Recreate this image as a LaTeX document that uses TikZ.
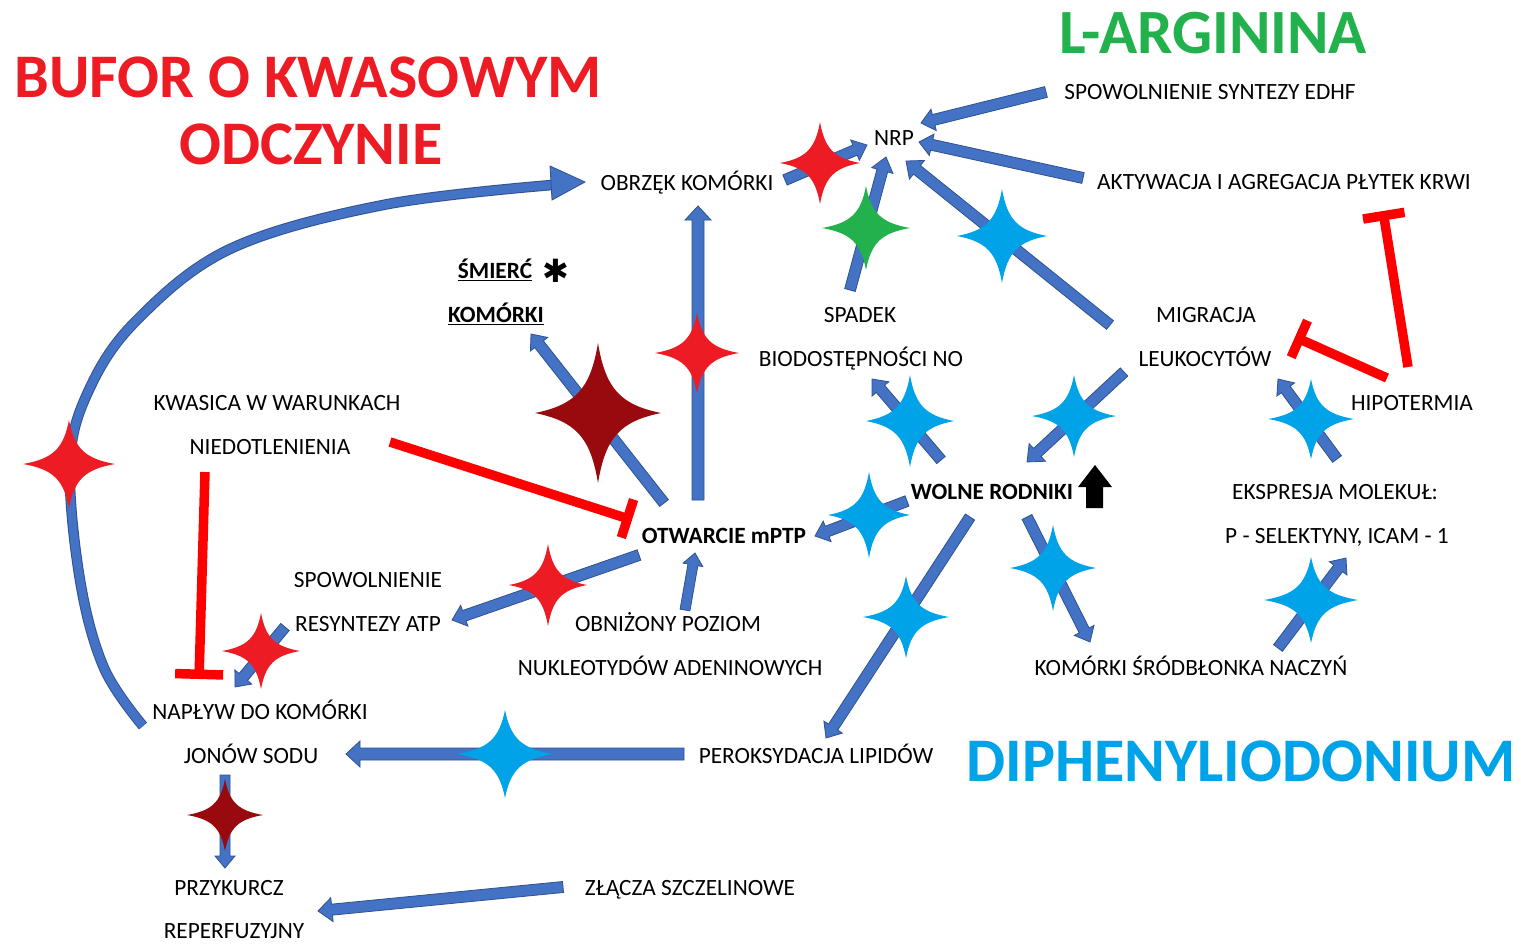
\documentclass[tikz,border=0pt]{standalone}
\usepackage{fontspec}
\setmainfont{Carlito}
\newfontfamily\symfnt{DejaVu Sans}
\usetikzlibrary{arrows.meta,calc}
\definecolor{abl}{HTML}{4472C4}
\definecolor{abd}{HTML}{2F528F}
\definecolor{sred}{HTML}{ED1C24}
\definecolor{dred}{HTML}{990A0E}
\definecolor{sgreen}{HTML}{22B14C}
\definecolor{sblue}{HTML}{00A2E8}
\definecolor{ired}{HTML}{FF0000}
\newcommand\blockarr[5]{%
  \path (#1); \pgfgetlastxy{\baX}{\baY}%
  \path (#2); \pgfgetlastxy{\bbX}{\bbY}%
  \pgfmathsetmacro\baAng{atan2(\bbY-\baY,\bbX-\baX)}%
  \pgfmathsetmacro\baLen{veclen(\bbX-\baX,\bbY-\baY)}%
  \begin{scope}[shift={(\baX,\baY)},rotate=\baAng]
    \filldraw[blockstyle] (0pt,#3pt) -- ({\baLen pt-#5pt},#3pt) -- ({\baLen pt-#5pt},#4pt) -- (\baLen pt,0pt) -- ({\baLen pt-#5pt},-#4pt) -- ({\baLen pt-#5pt},-#3pt) -- (0pt,-#3pt) -- cycle;
  \end{scope}}
\newcommand\qstar[4]{%
  \begin{scope}[shift={(#1)},xscale=#2,yscale=#3]
    \fill[#4] (1,0) .. controls (0.35,0.12) and (0.12,0.35) .. (0,1)
      .. controls (-0.12,0.35) and (-0.35,0.12) .. (-1,0)
      .. controls (-0.35,-0.12) and (-0.12,-0.35) .. (0,-1)
      .. controls (0.12,-0.35) and (0.35,-0.12) .. (1,0) -- cycle;
  \end{scope}}
\begin{document}
\begin{tikzpicture}[x=1pt,y=-1pt,
  blockstyle/.style={fill=abl,draw=abd,line width=0.8pt,line join=miter},
  lbl/.style={font=\fontsize{23.3}{25}\selectfont,text height=19.6pt,text depth=4.6pt,inner sep=0pt},
  blbl/.style={lbl,font=\fontsize{23.3}{25}\selectfont\bfseries},
  title/.style={font=\fontsize{62}{64}\selectfont\bfseries,anchor=base,inner sep=0pt},
  inhib/.style={draw=ired,line width=9.5pt,-{Bar[width=40pt]}}]
\useasboundingbox (0,0) rectangle (1521,943);
\fill[white] (0,0) rectangle (1521,943);

% ---------- titles ----------
\node[title,text=sred] (t1) at (308,97) {BUFOR O KWASOWYM};
\node[title,text=sred] (t2) at (311,164) {ODCZYNIE};
\node[title,text=sgreen,font=\fontsize{63}{65}\selectfont\bfseries] (t3) at (1213,53) {L-ARGININA};
\node[title,text=sblue] (t4) at (1241,781) {DIPHENYLIODONIUM};

% ---------- labels ----------
\node[lbl] (edhf) at (1210,92) {SPOWOLNIENIE SYNTEZY EDHF};
\node[lbl] (nrp) at (894,138) {NRP};
\node[lbl] (aktyw) at (1284,182) {AKTYWACJA I AGREGACJA PŁYTEK KRWI};
\node[lbl] (obrzek) at (687,183) {OBRZĘK KOMÓRKI};
\node[blbl] (smierc) at (495,271) {\underline{ŚMIERĆ}};
\node[inner sep=0pt,font=\symfnt\fontsize{32}{32}\selectfont] (ast) at (556,271) {✱};
\node[blbl] (smierc2) at (496,315) {\underline{KOMÓRKI}};
\node[lbl] (spadek) at (860,315) {SPADEK};
\node[lbl] (biodost) at (861,359) {BIODOSTĘPNOŚCI NO};
\node[lbl] (migr) at (1206,315) {MIGRACJA};
\node[lbl] (leuko) at (1205,359) {LEUKOCYTÓW};
\node[lbl] (hipo) at (1412,403) {HIPOTERMIA};
\node[lbl] (kwas) at (277,403) {KWASICA W WARUNKACH};
\node[lbl] (niedot) at (270,447) {NIEDOTLENIENIA};
\node[blbl] (wolne) at (992,492) {WOLNE RODNIKI};
\node[lbl] (ekspr) at (1335,492) {EKSPRESJA MOLEKUŁ:};
\node[lbl] (selekt) at (1337,536) {P - SELEKTYNY, ICAM - 1};
\node[blbl] (otw) at (724,536) {OTWARCIE mPTP};
\node[lbl] (spow) at (368,580) {SPOWOLNIENIE};
\node[lbl] (resynt) at (368,624) {RESYNTEZY ATP};
\node[lbl] (obniz) at (668,624) {OBNIŻONY POZIOM};
\node[lbl] (nukleo) at (670,668) {NUKLEOTYDÓW ADENINOWYCH};
\node[lbl] (srodbl) at (1191,668) {KOMÓRKI ŚRÓDBŁONKA NACZYŃ};
\node[lbl] (naplyw) at (260,712) {NAPŁYW DO KOMÓRKI};
\node[lbl] (jonow) at (251,756) {JONÓW SODU};
\node[lbl] (perok) at (816,756) {PEROKSYDACJA LIPIDÓW};
\node[lbl] (przyk) at (229,888) {PRZYKURCZ};
\node[lbl] (reperf) at (234,931) {REPERFUZYJNY};
\node[lbl] (zlacza) at (690,888) {ZŁĄCZA SZCZELINOWE};

% ---------- arrow end points ----------
\coordinate (a1s) at (785,180);  \coordinate (a1t) at (867,145);
\coordinate (a2s) at (850,290);  \coordinate (a2t) at (886,157);
\coordinate (a3s) at (1110,325); \coordinate (a3t) at (906,161);
\coordinate (a4s) at (1046,92);  \coordinate (a4t) at (921,123);
\coordinate (a5s) at (1083,178); \coordinate (a5t) at (919,142);
\coordinate (a6s) at (698,500);  \coordinate (a6t) at (698,206);
\coordinate (a7s) at (664,503);  \coordinate (a7t) at (531,334);
\coordinate (a8s) at (941,460);  \coordinate (a8t) at (872,379);
\coordinate (a9s) at (1124,372); \coordinate (a9t) at (1027,462);
\coordinate (a10s) at (907,501); \coordinate (a10t) at (815,536);
\coordinate (a11s) at (970,517); \coordinate (a11t) at (826,738);
\coordinate (a12s) at (1027,517); \coordinate (a12t) at (1090,642);
\coordinate (a13s) at (1337,459); \coordinate (a13t) at (1278,379);
\coordinate (a14s) at (1278,648); \coordinate (a14t) at (1346,558);
\coordinate (a15s) at (639,555); \coordinate (a15t) at (452,620);
\coordinate (a16s) at (685,610); \coordinate (a16t) at (695,553);
\coordinate (a17s) at (285,627); \coordinate (a17t) at (235,687);
\coordinate (a18s) at (684,754); \coordinate (a18t) at (346,754);
\coordinate (a19s) at (225,775); \coordinate (a19t) at (225,868);
\coordinate (a20s) at (563,887); \coordinate (a20t) at (318,911);

% ---------- block arrows ----------
\blockarr{a1s}{a1t}{5.5}{11}{13}
\blockarr{a2s}{a2t}{5.5}{11}{14}
\blockarr{a3s}{a3t}{5.5}{12}{14}
\blockarr{a4s}{a4t}{5.5}{11}{13}
\blockarr{a5s}{a5t}{5.5}{11}{13}
\blockarr{a6s}{a6t}{6}{13}{14}
\blockarr{a7s}{a7t}{5.5}{11}{13}
\blockarr{a8s}{a8t}{5.5}{11}{13}
\blockarr{a9s}{a9t}{5.5}{12}{14}
\blockarr{a10s}{a10t}{5.5}{11}{13}
\blockarr{a11s}{a11t}{5.5}{11}{13}
\blockarr{a12s}{a12t}{5.5}{11}{13}
\blockarr{a13s}{a13t}{5.5}{11}{13}
\blockarr{a14s}{a14t}{5.5}{11}{13}
\blockarr{a15s}{a15t}{5.5}{11}{13}
\blockarr{a16s}{a16t}{5}{10}{12}
\blockarr{a17s}{a17t}{5.5}{11}{13}
\blockarr{a18s}{a18t}{6}{13}{14}
\blockarr{a19s}{a19t}{5}{10}{12}
\blockarr{a20s}{a20t}{5.5}{12}{14}

% ---------- big curved arrow ----------
\coordinate (cs) at (143,726);
\coordinate (ct) at (585,182);
\draw[abd,line width=10.5pt] plot[smooth,tension=0.6] coordinates {(cs) (104,668) (80,580) (70,464) (88,392) (135,322) (230,249) (383,205) (552,185)};
\draw[abl,line width=8.5pt] plot[smooth,tension=0.6] coordinates {(cs) (104,668) (80,580) (70,464) (88,392) (135,322) (230,249) (383,205) (552,185)};
\filldraw[blockstyle] (550,166) -- (ct) -- (552,200) -- cycle;

% ---------- inhibitors ----------
\coordinate (i1s) at (390,442); \coordinate (i1t) at (632,520);
\coordinate (i2s) at (205,472); \coordinate (i2t) at (199,679);
\coordinate (i3s) at (1387,378); \coordinate (i3t) at (1295,337);
\coordinate (i4s) at (1408,367); \coordinate (i4t) at (1383,211);
\draw[inhib] (i1s) -- (i1t);
\draw[inhib,-{Bar[width=48pt]}] (i2s) -- (i2t);
\draw[inhib] (i3s) -- (i3t);
\draw[inhib,-{Bar[width=42pt]}] (i4s) -- (i4t);

% ---------- black up arrow ----------
\fill[black] (1086,508) -- (1103,508) -- (1103,487) -- (1112,487) -- (1095,465) -- (1078,487) -- (1086,487) -- cycle;

% ---------- stars ----------
\qstar{820,163}{40}{41}{sred}
\qstar{866,228}{44}{42}{sgreen}
\qstar{1002,236}{45}{47}{sblue}
\qstar{598,413}{63}{70}{dred}
\qstar{697,353}{42}{40}{sred}
\qstar{910,421}{44}{46}{sblue}
\qstar{1074,416}{42}{41}{sblue}
\qstar{869,515}{41}{43}{sblue}
\qstar{261,651}{39}{38}{sred}
\qstar{1311,419}{43}{40}{sblue}
\qstar{225,815}{38}{36}{dred}
\qstar{505,754}{48}{44}{sblue}
\qstar{906,617}{43}{41}{sblue}
\qstar{1053,568}{43}{43}{sblue}
\qstar{1311,600}{47}{43}{sblue}
\qstar{548,585}{39}{41}{sred}
\qstar{69,464}{46}{44}{sred}
\end{tikzpicture}
\end{document}
